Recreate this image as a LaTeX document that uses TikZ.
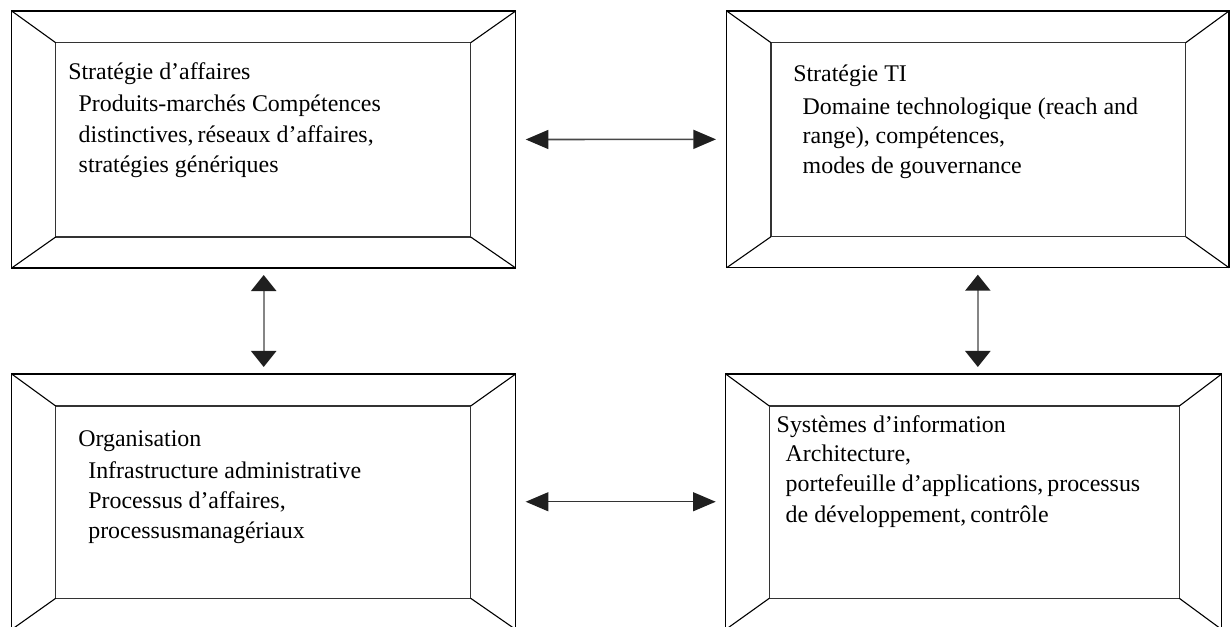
\documentclass[tikz,border=0pt]{standalone}
\usepackage{fontspec}
\setmainfont{Liberation Serif}
\usetikzlibrary{arrows.meta}

\begin{document}
\begin{tikzpicture}[
  x=1bp, y=-1bp,
  outerframe/.style={draw=black, line width=1.2bp, inner sep=0pt, outer sep=0pt},
  innerframe/.style={draw=black!80, line width=1.2bp, inner sep=0pt, outer sep=0pt},
  bevel/.style={draw=black, line width=1.1bp},
  txt/.style={anchor=base west, inner sep=0pt, outer sep=0pt, font=\fontsize{24}{29}\selectfont},
  harrow/.style={draw=black!72, line width=1.6bp,
    {Triangle[length=22.7bp,width=19bp,color=black!88]}-{Triangle[length=22.7bp,width=19bp,color=black!88]}},
  varrow/.style={draw=black!48, line width=2.4bp,
    {Triangle[length=16bp,width=25bp,color=black!88]}-{Triangle[length=16bp,width=25bp,color=black!88]}}
]
\useasboundingbox (0,0) rectangle (1230,627);
\clip (0,0) rectangle (1230,627);

% ---- beveled frames: outer and inner rectangles ----
\node[outerframe, minimum width=504bp,   minimum height=257bp]   (o1) at (263.7,139.5)  {};
\node[innerframe, minimum width=415bp,   minimum height=194.3bp] (i1) at (263.2,139.85) {};
\node[outerframe, minimum width=502.3bp, minimum height=256.7bp] (o2) at (977.85,139.35) {};
\node[innerframe, minimum width=414.7bp, minimum height=194bp]   (i2) at (978.35,139.7) {};
\node[outerframe, minimum width=504bp,   minimum height=255.5bp] (o3) at (263.7,501.75) {};
\node[innerframe, minimum width=415bp,   minimum height=192.3bp] (i3) at (263.2,502.15) {};
\node[outerframe, minimum width=496bp,   minimum height=255.5bp] (o4) at (973.7,501.75) {};
\node[innerframe, minimum width=410bp,   minimum height=192.3bp] (i4) at (974.3,502.15) {};

% corner bevels
\foreach \k in {1,2,3,4}{
  \draw[bevel] (o\k.north west) -- (i\k.north west);
  \draw[bevel] (o\k.north east) -- (i\k.north east);
  \draw[bevel] (o\k.south west) -- (i\k.south west);
  \draw[bevel] (o\k.south east) -- (i\k.south east);
}

% ---- texts ----
\node[txt] (t1)  at (68.3,80)    {Stratégie d’affaires};
\node[txt] (t1a) at (78.7,111.7) {Produits-marchés Compétences};
\node[txt] (t1b) at (78.7,142.3) {distinctives,\,réseaux d’affaires,};
\node[txt] (t1c) at (78.7,172.7) {stratégies génériques};

\node[txt] (t2)  at (793.3,81.7) {Stratégie TI};
\node[txt] (t2a) at (802.7,115)  {Domaine technologique (reach and};
\node[txt] (t2b) at (802.7,144)  {range), compétences,};
\node[txt] (t2c) at (802.7,174)  {modes de gouvernance};

\node[txt] (t3)  at (78.3,446.7) {Organisation};
\node[txt] (t3a) at (88.3,478.3) {Infrastructure administrative};
\node[txt] (t3b) at (88.3,508.3) {Processus d’affaires,};
\node[txt] (t3c) at (88.3,538.5) {processusmanagériaux};

\node[txt] (t4)  at (776.7,432.3) {Systèmes d’information};
\node[txt] (t4a) at (785.7,461.7) {Architecture,};
\node[txt] (t4b) at (785.7,491.7) {portefeuille d’applications,\,processus};
\node[txt] (t4c) at (785.7,522)   {de développement,\,contrôle};

% ---- connectors ----
\draw[harrow, shorten <=10bp, shorten >=10.7bp] (o1.east) -- (o2.west);
\draw[harrow, shorten <=10bp, shorten >=10bp, draw=black!80, line width=1.3bp] (o3.east) -- (o3.east -| o4.west);
\draw[varrow, shorten <=7bp, shorten >=7bp] (o1.south) -- (o3.north);
\draw[varrow, shorten <=7bp, shorten >=7bp] (o2.south) -- (o2.south |- o4.north);
\end{tikzpicture}
\end{document}
